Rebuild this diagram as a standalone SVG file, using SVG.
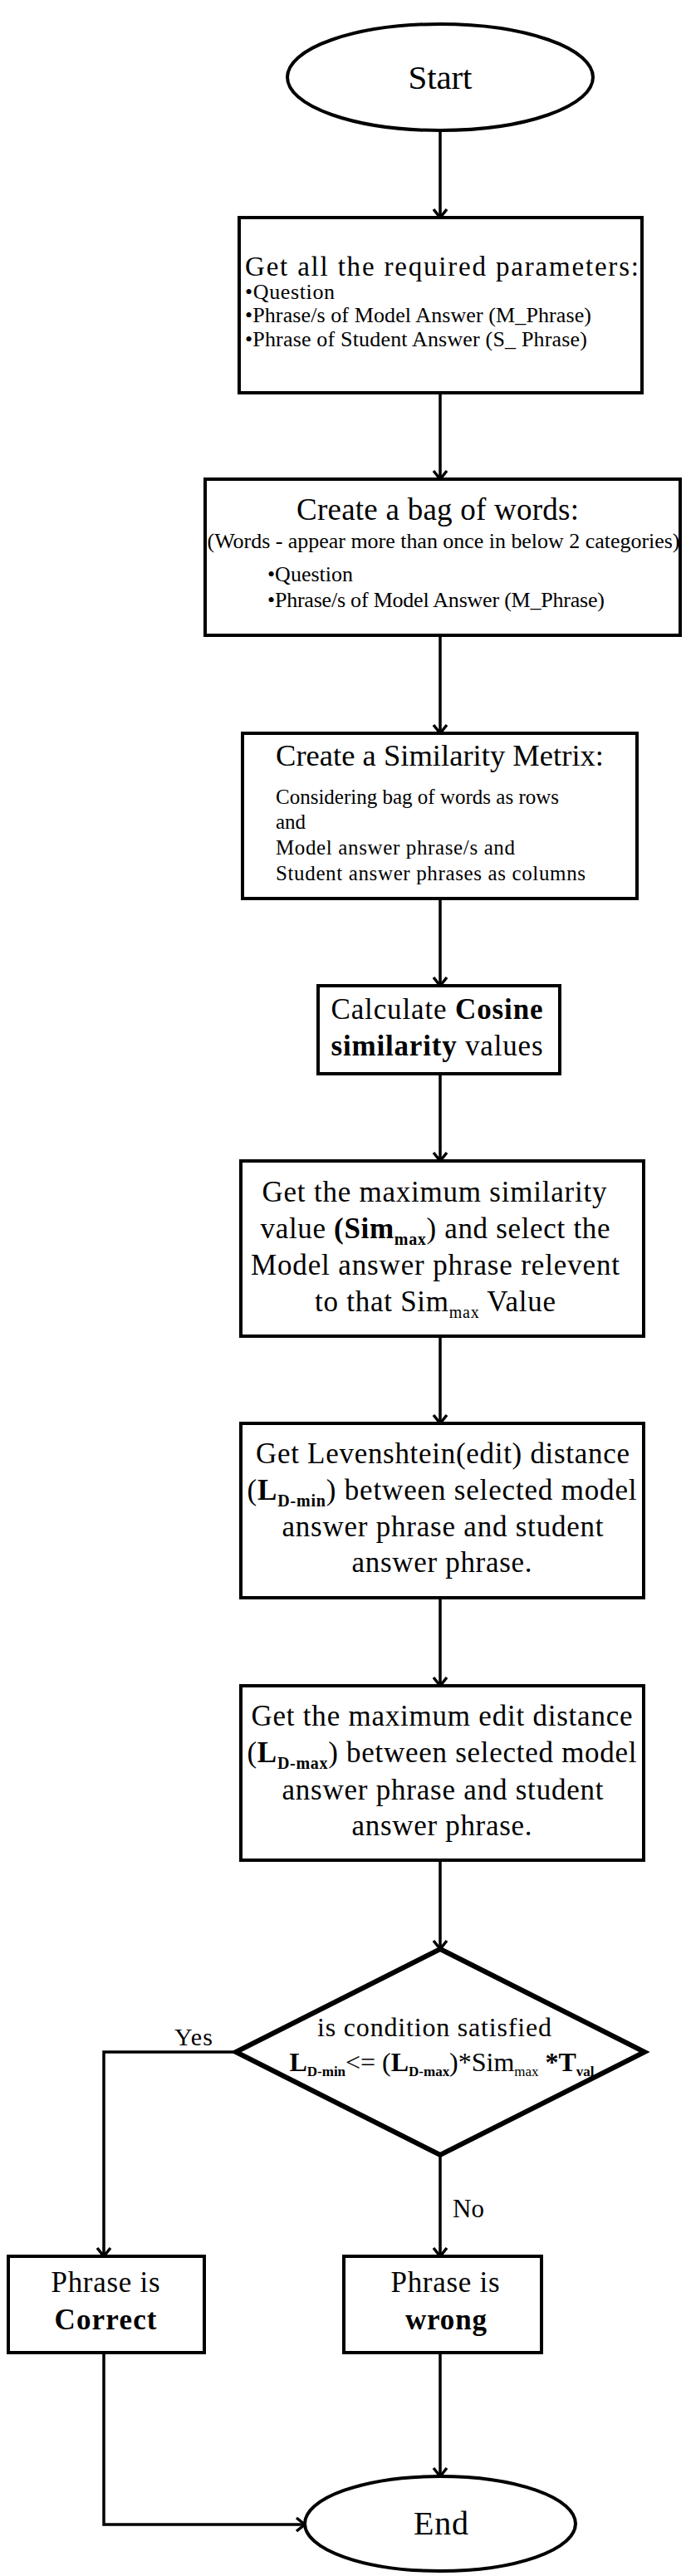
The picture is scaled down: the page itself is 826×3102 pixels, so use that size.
<svg xmlns="http://www.w3.org/2000/svg" width="826" height="3102" viewBox="0 0 826 3102">
<style>
.sh{fill:#fff;stroke:#000;stroke-width:4}
.dia{fill:#fff;stroke:#000;stroke-width:6;stroke-linejoin:miter}
.c{fill:none;stroke:#000;stroke-width:3.5}
text{font-family:"Liberation Serif","Times New Roman",serif;fill:#000}
.m{text-anchor:middle}
.b{font-weight:bold}
</style>
<defs>
<marker id="ah" markerUnits="userSpaceOnUse" markerWidth="20" markerHeight="20" viewBox="0 0 20 20" refX="16" refY="10" orient="auto" overflow="visible">
<path d="M6,2 L16,10 L6,18" fill="none" stroke="#000" stroke-width="3.5"/>
</marker>
</defs>
<rect width="826" height="3102" fill="#fff"/>
<g id="connectors">
<line class="c" x1="530" y1="157" x2="530" y2="262" marker-end="url(#ah)"/>
<line class="c" x1="530" y1="473" x2="530" y2="577" marker-end="url(#ah)"/>
<line class="c" x1="530" y1="765" x2="530" y2="883" marker-end="url(#ah)"/>
<line class="c" x1="530" y1="1082" x2="530" y2="1187" marker-end="url(#ah)"/>
<line class="c" x1="530" y1="1293" x2="530" y2="1398" marker-end="url(#ah)"/>
<line class="c" x1="530" y1="1609" x2="530" y2="1714" marker-end="url(#ah)"/>
<line class="c" x1="530" y1="1924" x2="530" y2="2030" marker-end="url(#ah)"/>
<line class="c" x1="530" y1="2240" x2="530" y2="2347" marker-end="url(#ah)"/>
<polyline class="c" points="284,2471 125,2471 125,2717" marker-end="url(#ah)"/>
<line class="c" x1="530" y1="2595" x2="530" y2="2717" marker-end="url(#ah)"/>
<line class="c" x1="530" y1="2833" x2="530" y2="2982" marker-end="url(#ah)"/>
<polyline class="c" points="125,2833 125,3040 367,3040" marker-end="url(#ah)"/>
<text x="210" y="2463" font-size="30" textLength="46">Yes</text>
<text x="545" y="2670" font-size="31" textLength="38">No</text>
</g>
<g id="start">
<ellipse class="sh" cx="530" cy="93" rx="184" ry="64"/>
<text class="m" x="530" y="107" font-size="41" textLength="77">Start</text>
</g>
<g id="params">
<rect class="sh" x="288" y="262" width="485" height="211"/>
<text x="295" y="332" font-size="33" textLength="474">Get all the required parameters:</text>
<text x="295" y="360" font-size="26" textLength="108">•Question</text>
<text x="295" y="388" font-size="26" textLength="417">•Phrase/s of Model Answer (M_Phrase)</text>
<text x="295" y="417" font-size="26" textLength="412">•Phrase of Student Answer (S_ Phrase)</text>
</g>
<g id="bag">
<rect class="sh" x="247" y="577" width="572" height="188"/>
<text class="m" x="527" y="626" font-size="37" textLength="340">Create a bag of words:</text>
<text class="m" x="534" y="660" font-size="26" textLength="569">(Words - appear more than once in below 2 categories)</text>
<text x="322" y="700" font-size="26" textLength="103">•Question</text>
<text x="322" y="731" font-size="26" textLength="406">•Phrase/s of Model Answer (M_Phrase)</text>
</g>
<g id="matrix">
<rect class="sh" x="292" y="883" width="475" height="199"/>
<text x="332" y="922" font-size="36.5" textLength="395">Create a Similarity Metrix:</text>
<text x="332" y="968" font-size="25" textLength="341">Considering bag of words as rows</text>
<text x="332" y="998" font-size="25">and</text>
<text x="332" y="1029" font-size="25" textLength="288">Model answer phrase/s and</text>
<text x="332" y="1060" font-size="25" textLength="373">Student answer phrases as columns</text>
</g>
<g id="cosine">
<rect class="sh" x="383" y="1187" width="291" height="106"/>
<text class="m" x="526" y="1227" font-size="35" textLength="255">Calculate <tspan class="b">Cosine</tspan></text>
<text class="m" x="526" y="1271" font-size="35" textLength="255"><tspan class="b">similarity</tspan> values</text>
</g>
<g id="simmax">
<rect class="sh" x="290" y="1398" width="485" height="211"/>
<text class="m" x="523" y="1447" font-size="35" textLength="415">Get the maximum similarity</text>
<text class="m" x="524" y="1491" font-size="35" textLength="421">value <tspan class="b">(Sim</tspan><tspan class="b" font-size="20" dy="8">max</tspan><tspan dy="-8">) and select the</tspan></text>
<text class="m" x="524" y="1535" font-size="35" textLength="444">Model answer phrase relevent</text>
<text class="m" x="524" y="1579" font-size="35" textLength="290">to that Sim<tspan font-size="20" dy="8">max</tspan><tspan dy="-8"> Value</tspan></text>
</g>
<g id="levmin">
<rect class="sh" x="290" y="1714" width="485" height="210"/>
<text class="m" x="533" y="1762" font-size="35" textLength="450">Get Levenshtein(edit) distance</text>
<text class="m" x="532" y="1806" font-size="35" textLength="469">(<tspan class="b">L</tspan><tspan class="b" font-size="20" dy="8">D-min</tspan><tspan dy="-8">) between selected model</tspan></text>
<text class="m" x="533" y="1850" font-size="35" textLength="387">answer phrase and student</text>
<text class="m" x="532" y="1893" font-size="35" textLength="217">answer phrase.</text>
</g>
<g id="levmax">
<rect class="sh" x="290" y="2030" width="485" height="210"/>
<text class="m" x="532" y="2078" font-size="35" textLength="459">Get the maximum edit distance</text>
<text class="m" x="532" y="2122" font-size="35" textLength="469">(<tspan class="b">L</tspan><tspan class="b" font-size="20" dy="8">D-max</tspan><tspan dy="-8">) between selected model</tspan></text>
<text class="m" x="533" y="2167" font-size="35" textLength="387">answer phrase and student</text>
<text class="m" x="532" y="2210" font-size="35" textLength="217">answer phrase.</text>
</g>
<g id="decision">
<polygon class="dia" points="530,2347 776,2471 530,2595 284,2471"/>
<text class="m" x="523" y="2452" font-size="32" textLength="282">is condition  satisfied</text>
<text class="m" x="532" y="2494" font-size="32" textLength="367"><tspan class="b">L</tspan><tspan class="b" font-size="17" dy="6">D-min</tspan><tspan dy="-6">&lt;= (</tspan><tspan class="b">L</tspan><tspan class="b" font-size="17" dy="6">D-max</tspan><tspan dy="-6">)*Sim</tspan><tspan font-size="17" dy="6">max</tspan><tspan class="b" dy="-6"> *T</tspan><tspan class="b" font-size="17" dy="6">val</tspan></text>
</g>
<g id="correct">
<rect class="sh" x="10" y="2717" width="236" height="116"/>
<text class="m" x="127" y="2760" font-size="35" textLength="131">Phrase is</text>
<text class="m b" x="127" y="2805" font-size="35" textLength="123">Correct</text>
</g>
<g id="wrong">
<rect class="sh" x="414" y="2717" width="238" height="116"/>
<text class="m" x="536" y="2760" font-size="35" textLength="131">Phrase is</text>
<text class="m b" x="537" y="2805" font-size="35" textLength="98">wrong</text>
</g>
<g id="end">
<ellipse class="sh" cx="530" cy="3039" rx="163" ry="57"/>
<text class="m" x="531" y="3052" font-size="40" textLength="66">End</text>
</g>
</svg>
